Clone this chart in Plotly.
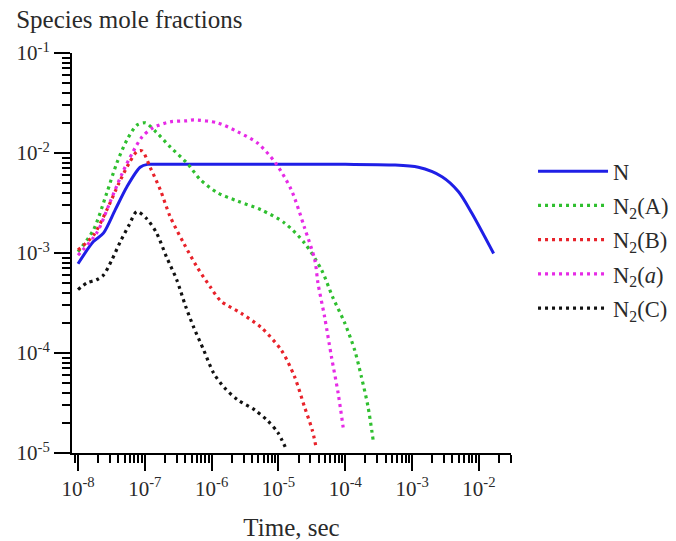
import plotly.graph_objects as go

# ---- data ----
t_N = [1.0e-8, 1.7e-8, 2.4e-8, 3.6e-8, 5.4e-8, 8.5e-8, 1.1e-7, 1.5e-7, 1e-6, 1e-5, 1e-4, 4.9e-4, 1.24e-3, 2.8e-3, 4.95e-3, 7.85e-3, 1.66e-2]
v_N = [7.8e-4, 1.30e-3, 1.58e-3, 2.7e-3, 4.6e-3, 7.2e-3, 7.7e-3, 7.7e-3, 7.7e-3, 7.7e-3, 7.7e-3, 7.6e-3, 7.2e-3, 5.8e-3, 4.1e-3, 2.5e-3, 9.9e-4]

t_A = [1.0e-8, 1.7e-8, 2.7e-8, 3.8e-8, 5.4e-8, 7.6e-8, 1.02e-7, 1.5e-7, 2.4e-7, 4.3e-7, 6.8e-7, 1.23e-6, 2.45e-6, 5.5e-6, 1.23e-5, 2.45e-5, 4.4e-5, 6.5e-5, 9.8e-5, 1.38e-4, 1.74e-4, 2.19e-4, 2.63e-4]
v_A = [1.03e-3, 1.7e-3, 4.0e-3, 7.9e-3, 1.35e-2, 1.9e-2, 2.0e-2, 1.6e-2, 1.15e-2, 7.9e-3, 5.4e-3, 4.0e-3, 3.3e-3, 2.7e-3, 2.0e-3, 1.26e-3, 6.8e-4, 3.6e-4, 2.0e-4, 1.07e-4, 5.8e-5, 2.9e-5, 1.3e-5]

t_B = [1.0e-8, 1.7e-8, 2.7e-8, 4.1e-8, 5.8e-8, 7.6e-8, 9.1e-8, 1.2e-7, 1.7e-7, 2.4e-7, 3.8e-7, 6.0e-7, 9.5e-7, 1.38e-6, 2.75e-6, 5.5e-6, 1.1e-5, 1.74e-5, 2.45e-5, 3.2e-5, 3.6e-5]
v_B = [1.07e-3, 1.5e-3, 2.7e-3, 5.0e-3, 7.9e-3, 1.03e-2, 1.05e-2, 7.2e-3, 4.3e-3, 2.3e-3, 1.26e-3, 7.3e-4, 4.6e-4, 3.3e-4, 2.5e-4, 1.8e-4, 1.07e-4, 5.8e-5, 2.9e-5, 1.7e-5, 1.2e-5]

t_a = [1.0e-8, 1.9e-8, 3.0e-8, 4.6e-8, 6.5e-8, 9.1e-8, 1.35e-7, 2.4e-7, 4.3e-7, 5.4e-7, 1.23e-6, 2.45e-6, 4.9e-6, 9.1e-6, 1.55e-5, 2.45e-5, 3.5e-5, 3.9e-5, 4.9e-5, 6.2e-5, 7.8e-5, 9.3e-5]
v_a = [9.5e-4, 1.58e-3, 3.2e-3, 6.3e-3, 1.0e-2, 1.45e-2, 1.8e-2, 2.05e-2, 2.1e-2, 2.14e-2, 2.0e-2, 1.63e-2, 1.25e-2, 7.9e-3, 4.3e-3, 1.8e-3, 8.5e-4, 5.0e-4, 2.3e-4, 9.2e-5, 4.0e-5, 1.8e-5]

t_C = [1.0e-8, 1.35e-8, 1.9e-8, 2.4e-8, 3.2e-8, 4.3e-8, 5.8e-8, 7.6e-8, 1.07e-7, 1.5e-7, 2.1e-7, 3.0e-7, 4.1e-7, 5.4e-7, 7.6e-7, 1.07e-6, 1.55e-6, 2.45e-6, 4.4e-6, 6.9e-6, 9.8e-6, 1.26e-5]
v_C = [4.3e-4, 5.0e-4, 5.4e-4, 6.0e-4, 8.5e-4, 1.3e-3, 1.9e-3, 2.6e-3, 2.2e-3, 1.58e-3, 9.2e-4, 5.4e-4, 2.9e-4, 1.8e-4, 1.07e-4, 6.3e-5, 4.5e-5, 3.4e-5, 2.7e-5, 2.1e-5, 1.6e-5, 1.15e-5]

names = ["N", "N<sub>2</sub>(A)", "N<sub>2</sub>(B)", "N<sub>2</sub>(<i>a</i>)", "N<sub>2</sub>(C)"]
colors = ["#1f1fe6", "#2fbf2f", "#e8222a", "#e62ae6", "#111111"]

x_tick_vals = [1e-8, 1e-7, 1e-6, 1e-5, 1e-4, 1e-3, 1e-2]
x_tick_text = ["10<sup>-8</sup>", "10<sup>-7</sup>", "10<sup>-6</sup>", "10<sup>-5</sup>",
               "10<sup>-4</sup>", "10<sup>-3</sup>", "10<sup>-2</sup>"]
y_tick_vals = [1e-5, 1e-4, 1e-3, 1e-2, 1e-1]
y_tick_text = ["10<sup>-5</sup>", "10<sup>-4</sup>", "10<sup>-3</sup>", "10<sup>-2</sup>", "10<sup>-1</sup>"]

FONT = "Liberation Serif, Times New Roman, serif"
TXT = "#2a2a2a"

def minor_vals(lo, hi):
    out = []
    for e in range(lo, hi):
        for m in range(2, 10):
            out.append(m * 10.0 ** e)
    return out

fig = go.Figure()
series = [(t_N, v_N), (t_A, v_A), (t_B, v_B), (t_a, v_a), (t_C, v_C)]
for i, ((tx, vy), nm, col) in enumerate(zip(series, names, colors)):
    fig.add_trace(go.Scatter(
        x=tx, y=vy, mode="lines", name=nm, legendgroup=f"g{i}",
        line=dict(color=col, width=3 if i == 0 else 3.2,
                  dash="solid" if i == 0 else "3px,4px", shape="spline", smoothing=0.8),
    ))

fig.update_layout(
    width=676, height=541,
    margin=dict(l=72, r=165, t=53, b=88, autoexpand=False),
    paper_bgcolor="white", plot_bgcolor="white",
    font=dict(family=FONT, size=16, color=TXT),
    title=dict(text="Species mole fractions", x=0.024, xanchor="left",
               y=0.964, yanchor="middle", font=dict(family=FONT, size=25, color=TXT)),
    legend=dict(xref="container", yref="container", x=0.7885, y=1 - 150 / 541,
                xanchor="left", yanchor="top",
                font=dict(family=FONT, size=22.5, color=TXT),
                tracegroupgap=2, itemwidth=70, bgcolor="rgba(0,0,0,0)"),
    showlegend=True,
)
fig.update_xaxes(
    type="log", range=[-8.09, -1.52], automargin=False,
    showline=True, linecolor="black", linewidth=2, mirror=False,
    showgrid=False, zeroline=False,
    tickmode="array", tickvals=x_tick_vals, ticktext=x_tick_text,
    ticks="outside", ticklen=16, tickwidth=2, tickcolor="black",
    tickfont=dict(family=FONT, size=21, color=TXT),
    minor=dict(tickvals=minor_vals(-9, -1), ticks="outside", ticklen=8, tickwidth=1.5, tickcolor="black", showgrid=False),
    title=dict(text="Time, sec", font=dict(family=FONT, size=25, color=TXT), standoff=18),
)
fig.update_yaxes(
    type="log", range=[-5, -1], automargin=False,
    showline=True, linecolor="black", linewidth=2, mirror=False,
    showgrid=False, zeroline=False,
    tickmode="array", tickvals=y_tick_vals, ticktext=y_tick_text,
    ticks="outside", ticklen=16, tickwidth=2, tickcolor="black",
    tickfont=dict(family=FONT, size=21, color=TXT),
    minor=dict(tickvals=minor_vals(-6, -1), ticks="outside", ticklen=8, tickwidth=1.5, tickcolor="black", showgrid=False),
)

fig.write_html("out.html")
